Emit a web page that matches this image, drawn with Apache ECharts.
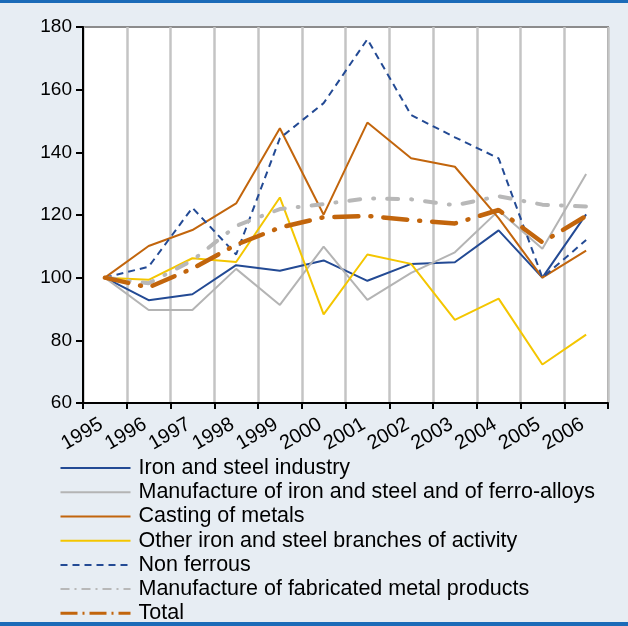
<!DOCTYPE html>
<html>
<head>
<meta charset="utf-8">
<script src="https://cdn.jsdelivr.net/npm/echarts@6/dist/echarts.min.js"></script>
<style>
  html, body { margin: 0; padding: 0; background: #e7edf3; }
  #chart { width: 628px; height: 626px; }
</style>
</head>
<body>
<div id="chart"></div>
<script>
// values (index, 1995 = 100)
const years = ['1995', '1996', '1997', '1998', '1999', '2000', '2001', '2002', '2003', '2004', '2005', '2006']
const yTicks = [60, 80, 100, 120, 140, 160, 180]

const ironSteel = [100, 92.8, 94.7, 104.0, 102.2, 105.5, 99.0, 104.4, 104.9, 115.1, 100.0, 120.2]
const manufIronSteel = [100, 89.7, 89.7, 102.8, 91.3, 109.9, 92.9, 101.5, 108.1, 121.4, 109.2, 133.1]
const casting = [100, 110.1, 115.2, 123.7, 147.7, 120.1, 149.5, 138.1, 135.4, 119.0, 100.0, 108.6]
const otherBranches = [100, 99.3, 106.2, 105.0, 125.6, 88.3, 107.4, 104.4, 86.5, 93.3, 72.3, 81.8]
const nonFerrous = [100, 103.5, 122.3, 107.4, 144.5, 155.7, 176.1, 151.9, 144.8, 138.1, 100.0, 112.0]
const fabricated = [100, 98.2, 105.5, 116.5, 121.9, 123.5, 125.3, 125.0, 123.1, 126.0, 123.3, 122.7]
const total = [100, 96.9, 102.9, 110.5, 116.0, 119.3, 119.7, 118.4, 117.3, 121.6, 111.3, 119.7]

const FONT = '"Liberation Sans", Arial, sans-serif'

function mkLine(name, data, color, width, type, cap) {
  return {
    name: name,
    type: 'line',
    data: data,
    symbol: 'none',
    smooth: false,
    itemStyle: { color: color },
    lineStyle: { color: color, width: width, type: type || 'solid', cap: cap || 'butt' },
    emphasis: { disabled: true }
  }
}

const chart = echarts.init(document.getElementById('chart'))
chart.setOption({
  backgroundColor: '#e7edf3',
  animation: false,
  textStyle: { fontFamily: FONT },
  graphic: [
    { type: 'rect', shape: { x: 0, y: 0, width: 628, height: 3 }, style: { fill: '#1b6bb8' } },
    { type: 'rect', shape: { x: 0, y: 622, width: 628, height: 4 }, style: { fill: '#1b6bb8' } }
  ],
  grid: {
    left: 83,
    right: 20,
    top: 27,
    bottom: 223,
    show: true,
    backgroundColor: '#ffffff',
    borderColor: '#8c8c8c',
    borderWidth: 2
  },
  legend: {
    orient: 'vertical',
    left: 59,
    top: 456,
    padding: 0,
    itemWidth: 70,
    itemHeight: 14,
    itemGap: 0,
    itemStyle: { opacity: 0 },
    textStyle: { fontSize: 21.5, color: '#000', fontFamily: FONT, lineHeight: 24.2, padding: [0, 0, 0, 3] },
    data: [
      { name: 'Iron and steel industry', lineStyle: { width: 2 } },
      { name: 'Manufacture of iron and steel and of ferro-alloys', lineStyle: { width: 2 } },
      { name: 'Casting of metals', lineStyle: { width: 2 } },
      { name: 'Other iron and steel branches of activity', lineStyle: { width: 2 } },
      { name: 'Non ferrous', lineStyle: { width: 2, type: [7, 5] } },
      { name: 'Manufacture of fabricated metal products', lineStyle: { width: 2, type: [9, 5, 2, 5], cap: 'butt' } },
      { name: 'Total', lineStyle: { width: 3, type: [17, 5, 2, 5], cap: 'butt' } }
    ]
  },
  xAxis: {
    type: 'category',
    data: years,
    boundaryGap: true,
    axisLine: { lineStyle: { color: '#000', width: 2 } },
    axisTick: { show: true, interval: 0, length: 6, lineStyle: { color: '#000', width: 2 } },
    axisLabel: { interval: 0, rotate: 30, fontSize: 20, color: '#000', margin: 18, padding: [0, 4, 0, 0], fontFamily: FONT },
    splitLine: { show: true, interval: 0, lineStyle: { color: '#c4c4c4', width: 2.5 } }
  },
  yAxis: {
    type: 'value',
    min: yTicks[0],
    max: yTicks[yTicks.length - 1],
    interval: 20,
    axisLine: { show: true, lineStyle: { color: '#000', width: 2 } },
    axisTick: { show: true, length: 7, lineStyle: { color: '#000', width: 2 } },
    axisLabel: { fontSize: 19, color: '#000', margin: 11, fontFamily: FONT },
    splitLine: { show: false }
  },
  series: [
    mkLine('Iron and steel industry', ironSteel, '#234a94', 2),
    mkLine('Manufacture of iron and steel and of ferro-alloys', manufIronSteel, '#b4b4b4', 2),
    mkLine('Casting of metals', casting, '#c2650c', 2),
    mkLine('Other iron and steel branches of activity', otherBranches, '#f4c600', 2),
    mkLine('Non ferrous', nonFerrous, '#234a94', 2, [7, 5]),
    mkLine('Manufacture of fabricated metal products', fabricated, '#b8b8b8', 4, [11, 13, 1, 13], 'round'),
    mkLine('Total', total, '#c2650c', 4.5, [24, 12, 1, 12], 'round')
  ]
})
</script>
</body>
</html>
